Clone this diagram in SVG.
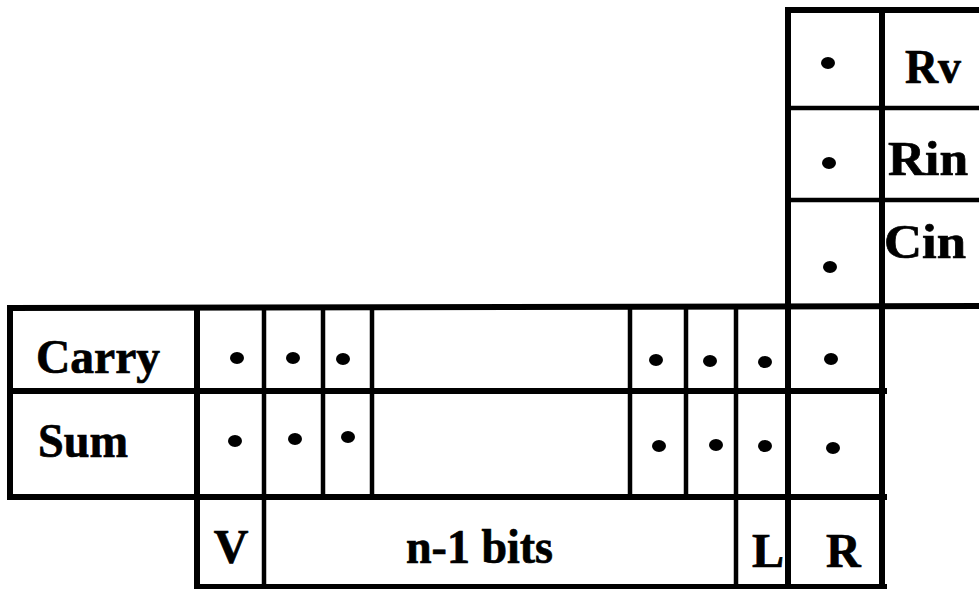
<svg xmlns="http://www.w3.org/2000/svg" width="979" height="589" viewBox="0 0 979 589">
  <style>
    .bg { fill: #ffffff; }
    .rule { stroke: #000000; stroke-width: 6; stroke-linecap: square; fill: none; }
    .thin { stroke-width: 4.5; }
    .lbl { font-family: "Liberation Serif", "Times New Roman", serif; font-weight: bold; font-size: 48px; fill: #000000; stroke: #000000; stroke-width: 0.7; }
    .bit { fill: #000000; }
  </style>
  <defs>
    <ellipse id="dot" cx="0" cy="0" rx="7" ry="6" class="bit"/>
  </defs>
  <rect class="bg" x="0" y="0" width="979" height="589"/>

  <!-- grid rules -->
  <g id="grid">
    <!-- incoming column (Rv, Rin, Cin) -->
    <line class="rule" x1="788" y1="10" x2="979" y2="10"/>
    <line class="rule thin" x1="788" y1="108" x2="979" y2="108"/>
    <line class="rule thin" x1="788" y1="200" x2="979" y2="200"/>
    <!-- carry / sum register -->
    <line class="rule" x1="10" y1="308" x2="979" y2="306"/>
    <line class="rule" x1="10" y1="391" x2="884" y2="391"/>
    <line class="rule" x1="10" y1="497" x2="884" y2="497"/>
    <line class="rule" x1="197" y1="587" x2="884" y2="587"/>
    <line class="rule" x1="10" y1="308" x2="10" y2="497"/>
    <line class="rule" x1="197" y1="308" x2="197" y2="587"/>
    <line class="rule thin" x1="264" y1="308" x2="264" y2="587"/>
    <line class="rule thin" x1="323" y1="308" x2="323" y2="497"/>
    <line class="rule thin" x1="372" y1="308" x2="372" y2="497"/>
    <line class="rule thin" x1="630" y1="307" x2="630" y2="497"/>
    <line class="rule thin" x1="686" y1="307" x2="686" y2="497"/>
    <line class="rule thin" x1="736" y1="307" x2="736" y2="587"/>
    <line class="rule" x1="788" y1="10" x2="788" y2="587"/>
    <line class="rule" x1="882" y1="10" x2="882" y2="587"/>
  </g>

  <!-- incoming signals -->
  <g id="in-rv">
    <use href="#dot" x="828" y="63"/>
    <text class="lbl" x="905" y="83" textLength="56" lengthAdjust="spacingAndGlyphs">Rv</text>
  </g>
  <g id="in-rin">
    <use href="#dot" x="829" y="163"/>
    <text class="lbl" x="888" y="175" textLength="80" lengthAdjust="spacingAndGlyphs">Rin</text>
  </g>
  <g id="in-cin">
    <use href="#dot" x="830" y="267"/>
    <text class="lbl" x="884" y="258" textLength="82" lengthAdjust="spacingAndGlyphs">Cin</text>
  </g>

  <!-- carry row -->
  <g id="row-carry">
    <text class="lbl" x="36" y="373" textLength="124" lengthAdjust="spacingAndGlyphs">Carry</text>
    <use href="#dot" x="237" y="358"/>
    <use href="#dot" x="293" y="358"/>
    <use href="#dot" x="343" y="359"/>
    <use href="#dot" x="656" y="360"/>
    <use href="#dot" x="710" y="361"/>
    <use href="#dot" x="765" y="362"/>
    <use href="#dot" x="831" y="359"/>
  </g>

  <!-- sum row -->
  <g id="row-sum">
    <text class="lbl" x="38" y="457" textLength="90" lengthAdjust="spacingAndGlyphs">Sum</text>
    <use href="#dot" x="235" y="441"/>
    <use href="#dot" x="295" y="439"/>
    <use href="#dot" x="348" y="437"/>
    <use href="#dot" x="659" y="446"/>
    <use href="#dot" x="716" y="445"/>
    <use href="#dot" x="765" y="446"/>
    <use href="#dot" x="833" y="448"/>
  </g>

  <!-- field names -->
  <g id="field-v">
    <text class="lbl" x="231" y="563" text-anchor="middle">V</text>
  </g>
  <g id="field-bits">
    <text class="lbl" x="406" y="563" textLength="147" lengthAdjust="spacingAndGlyphs">n-1 bits</text>
  </g>
  <g id="field-l">
    <text class="lbl" x="752" y="567">L</text>
  </g>
  <g id="field-r">
    <text class="lbl" x="826" y="567">R</text>
  </g>
</svg>
